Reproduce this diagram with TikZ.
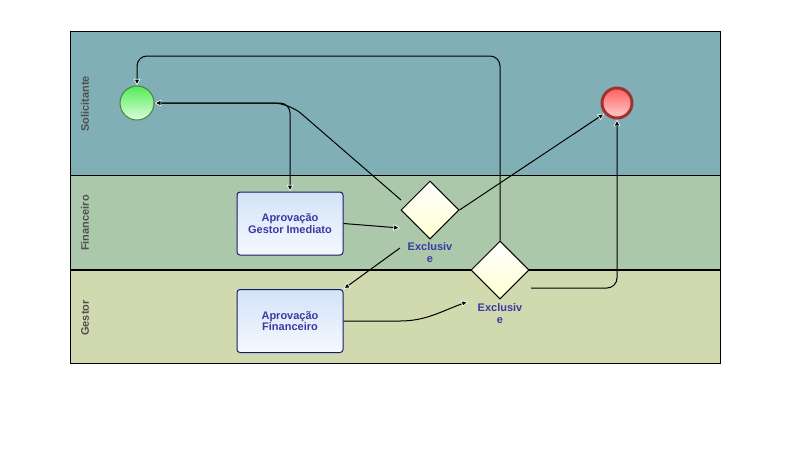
\documentclass[tikz,border=0pt]{standalone}
\usepackage{fontspec}
\setmainfont{Liberation Sans}
\usetikzlibrary{shapes.geometric,arrows.meta}

\definecolor{laneSol}{RGB}{128,175,181}
\definecolor{laneFin}{RGB}{171,200,171}
\definecolor{laneGes}{RGB}{209,217,174}
\definecolor{labelGray}{RGB}{80,80,80}
\definecolor{taskText}{RGB}{58,58,160}
\definecolor{taskLine}{RGB}{26,26,110}
\definecolor{taskTop}{RGB}{210,227,247}
\definecolor{taskBot}{RGB}{245,249,255}
\definecolor{gateBot}{RGB}{255,255,208}
\definecolor{startLine}{RGB}{70,130,70}
\definecolor{startTop}{RGB}{85,235,85}
\definecolor{startBot}{RGB}{220,255,220}
\definecolor{endLine}{RGB}{160,50,50}
\definecolor{endTop}{RGB}{255,95,95}
\definecolor{endBot}{RGB}{255,205,205}

\tikzset{every picture/.style={line width=0.75pt},
  lanelabel/.style={rotate=90, text=labelGray, inner sep=0pt, font=\fontsize{8.25}{9}\selectfont\bfseries},
  task/.style={draw=taskLine, rounded corners=2.25pt, top color=taskTop, bottom color=taskBot,
    minimum width=79.5pt, minimum height=47.25pt, inner sep=0pt, align=center, text=taskText,
    font=\fontsize{8.25}{8.7}\selectfont\bfseries},
  gateway/.style={diamond, aspect=1, draw=black, line width=0.75pt, top color=white, bottom color=gateBot,
    minimum width=43.5pt, minimum height=43.5pt, inner sep=0pt},
  gatelabel/.style={text=taskText, inner sep=0pt, align=center, font=\fontsize{8.25}{9}\selectfont\bfseries},
  startev/.style={circle, draw=startLine, top color=startTop, bottom color=startBot, minimum size=25.5pt, inner sep=0pt},
  endev/.style={circle, draw=endLine, line width=2.25pt, top color=endTop, bottom color=endBot, minimum size=22.5pt, inner sep=0pt},
  flow/.style={draw=black, line width=0.75pt, -{Triangle[length=5pt,width=5pt,color=white,fill=black,line width=0.5pt]}}
}

\begin{document}
\begin{tikzpicture}[x=0.75pt,y=0.75pt,yscale=-1,xscale=1]
    \useasboundingbox (0,0) rectangle (807,461);

    %Shape: Rectangle [lanes]
    \fill[laneSol] (70,31) rectangle (720,175);
    \fill[laneFin] (70,175) rectangle (720,270);
    \fill[laneGes] (70,270) rectangle (720,363);
    \draw (70,31) rectangle (720,363);
    \draw (70,175) -- (720,175);
    \draw[line width=1.5pt] (70,270) -- (720,270);

    % Text Node
    \node[lanelabel] (solLabel) at (85,104) {Solicitante};
    % Text Node
    \node[lanelabel] (finLabel) at (85,223) {Financeiro};
    % Text Node
    \node[lanelabel] (gesLabel) at (85,318) {Gestor};

    %Shape: Circle [events]
    \node[startev] (startEvent) at (137,103) {};
    \node[endev] (endEvent) at (617,103) {};

    %Shape: Rectangle [tasks]
    \node[task] (gestorTask) at (290,223.5) {Aprovação\\Gestor Imediato};
    \node[task] (finTask) at (290,321) {Aprovação\\Financeiro};

    %Shape: Diamond [gateways]
    \node[gateway] (gw1) at (430,210) {};
    \node[gatelabel] (gw1Label) at (430,253) {Exclusiv\\e};
    \node[gateway] (gw2) at (500,270) {};
    \node[gatelabel] (gw2Label) at (500,313.5) {Exclusiv\\e};

    % free ends and bends
    \coordinate (topRow) at (320,56);
    \coordinate (solBend) at (289,103);
    \coordinate (gw1Top) at (401,200);
    \coordinate (gw1In) at (400,228);
    \coordinate (gw1Out) at (400,248);
    \coordinate (finBend) at (400,321);
    \coordinate (gw2In) at (468,301.5);
    \coordinate (gw2Out) at (531,288);

    %Straight Lines [flows]
    \draw[flow, rounded corners=7.5pt] (gw2.north) |- (topRow) -| (startEvent.north);
    \draw[flow, rounded corners=7.5pt] (startEvent.east) -| (gestorTask.north);
    \draw[flow, rounded corners=12pt] (gw1Top) -- (solBend) -- (startEvent.east);
    \draw[flow] (gestorTask.east) -- (gw1In);
    \draw[flow] (gw1Out) -- (finTask.north east);
    \draw[flow] (gw1.east) -- (endEvent.220);
    %Curve Lines
    \draw[flow] (finTask.east) -- (finBend) .. controls (425,321) and (440,312) .. (gw2In);
    \draw[flow, rounded corners=7.5pt] (gw2Out) -| (endEvent.south);

\end{tikzpicture}
\end{document}
